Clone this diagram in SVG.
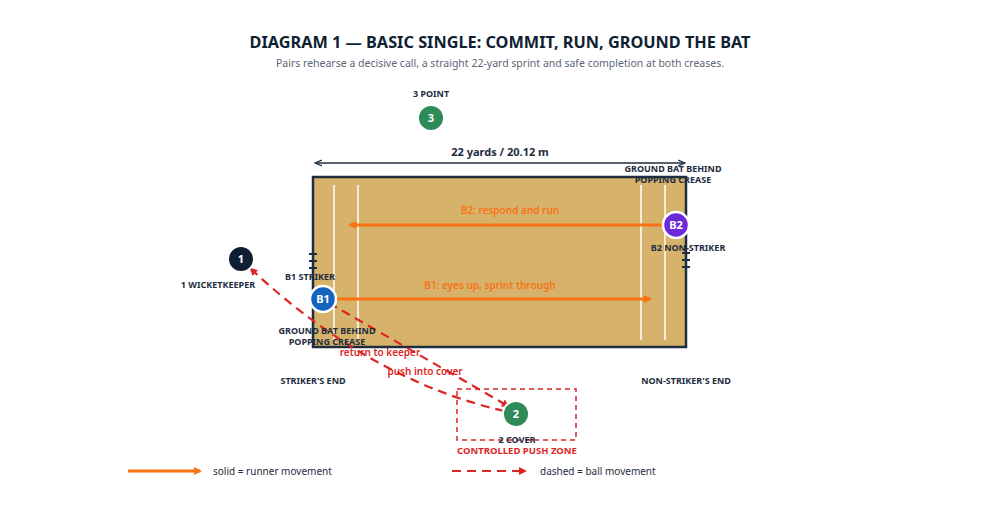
<svg xmlns="http://www.w3.org/2000/svg" width="1000" height="525" viewBox="0 0 1000 525">
<style>
text{font-family:"Noto Sans","Open Sans",sans-serif}
.t{font-size:9px;font-weight:700;fill:#1e2d40;text-anchor:middle}
.nl{font-size:11px;font-weight:700;fill:#fff;text-anchor:middle}
.run{stroke:#f97316;stroke-width:3;fill:none}
.ball{stroke:#dc2626;stroke-width:2.2;stroke-dasharray:9,6;fill:none}
.ol{font-size:10px;font-weight:600;fill:#f97316;text-anchor:middle}
.rl{font-size:10px;font-weight:600;fill:#dc2626;text-anchor:middle}
.cr{stroke:#fff;stroke-width:1.5}
.st{stroke:#1e2d40;stroke-width:2}
</style>
<defs>
<marker id="ao" markerWidth="8" markerHeight="8" refX="6" refY="4" orient="auto" markerUnits="userSpaceOnUse"><path d="M0,0L8,4L0,8z" fill="#f97316"/></marker>
<marker id="ar" markerWidth="8" markerHeight="8" refX="6" refY="4" orient="auto" markerUnits="userSpaceOnUse"><path d="M0,0L8,4L0,8z" fill="#dc2626"/></marker>
<marker id="ad" markerWidth="8" markerHeight="8" refX="6" refY="4" orient="auto-start-reverse" markerUnits="userSpaceOnUse"><path d="M0,1L7,4L0,7" fill="none" stroke="#1e2d40" stroke-width="1.3"/></marker>
</defs>
<rect width="1000" height="525" fill="#fff"/>
<text x="500" y="48" text-anchor="middle" font-size="16.3" font-weight="700" fill="#0f1f33">DIAGRAM 1 — BASIC SINGLE: COMMIT, RUN, GROUND THE BAT</text>
<text x="500" y="67" text-anchor="middle" font-size="10.5" fill="#5b6675">Pairs rehearse a decisive call, a straight 22-yard sprint and safe completion at both creases.</text>
<g id="pitch">
<rect x="313" y="177" width="373" height="170" fill="#d6b26a" stroke="#1e2d40" stroke-width="2.5"/>
<line class="cr" x1="334" y1="185" x2="334" y2="340"/><line class="cr" x1="358" y1="185" x2="358" y2="340"/>
<line class="cr" x1="641" y1="185" x2="641" y2="340"/><line class="cr" x1="665" y1="185" x2="665" y2="340"/>
<line class="st" x1="313" y1="242" x2="313" y2="275"/><line class="st" x1="309" y1="254" x2="317" y2="254"/><line class="st" x1="309" y1="261" x2="317" y2="261"/><line class="st" x1="309" y1="268" x2="317" y2="268"/>
<line class="st" x1="686" y1="250" x2="686" y2="284"/><line class="st" x1="682" y1="253" x2="690" y2="253"/><line class="st" x1="682" y1="260" x2="690" y2="260"/><line class="st" x1="682" y1="267" x2="690" y2="267"/>
<line x1="316" y1="163" x2="684" y2="163" stroke="#1e2d40" stroke-width="1.3" marker-start="url(#ad)" marker-end="url(#ad)"/>
<text x="500" y="156" text-anchor="middle" font-size="11" font-weight="700" fill="#1e2d40">22 yards / 20.12 m</text>
<text class="t" x="313" y="384">STRIKER'S END</text>
<text class="t" x="686" y="384">NON-STRIKER'S END</text>
<rect x="457" y="389" width="119" height="51" fill="none" stroke="#dc2626" stroke-width="1.5" stroke-dasharray="5,4"/>
<text x="517" y="454" text-anchor="middle" font-size="9.5" font-weight="700" fill="#dc2626">CONTROLLED PUSH ZONE</text>
</g>
<g id="connectors">
<line class="run" x1="662" y1="225" x2="350" y2="225" marker-end="url(#ao)"/>
<text class="ol" x="510" y="214">B2: respond and run</text>
<line class="run" x1="337" y1="299" x2="650" y2="299" marker-end="url(#ao)"/>
<text class="ol" x="490" y="289">B1: eyes up, sprint through</text>
<line class="ball" x1="329" y1="303" x2="508" y2="406" marker-end="url(#ar)"/>
<text class="rl" x="425" y="375">push into cover</text>
<path class="ball" d="M504,411 Q370,380 251,269" marker-end="url(#ar)"/>
<text class="rl" x="380" y="356">return to keeper</text>
</g>
<g id="n1"><circle cx="241" cy="259" r="13" fill="#0f1f33" stroke="#fff" stroke-width="2"/><text class="nl" x="241" y="263">1</text><text class="t" x="218" y="288">1 WICKETKEEPER</text></g>
<g id="n2"><circle cx="516" cy="414" r="13" fill="#2e8b57" stroke="#fff" stroke-width="2"/><text class="nl" x="516" y="418">2</text><text class="t" x="517" y="443">2 COVER</text></g>
<g id="n3"><circle cx="431" cy="118" r="13" fill="#2e8b57" stroke="#fff" stroke-width="2"/><text class="nl" x="431" y="122">3</text><text class="t" x="431" y="97">3 POINT</text></g>
<g id="b1"><circle cx="323" cy="299" r="13" fill="#1565c0" stroke="#fff" stroke-width="2.5"/><text class="nl" x="323" y="303">B1</text><text class="t" x="310" y="280">B1 STRIKER</text><text class="t" x="327" y="334">GROUND BAT BEHIND</text><text class="t" x="327" y="345">POPPING CREASE</text></g>
<g id="b2"><circle cx="676" cy="225" r="13" fill="#6d28d9" stroke="#fff" stroke-width="2.5"/><text class="nl" x="676" y="229">B2</text><text class="t" x="688" y="251">B2 NON-STRIKER</text><text class="t" x="673" y="172">GROUND BAT BEHIND</text><text class="t" x="673" y="183">POPPING CREASE</text></g>
<g id="legend">
<line class="run" x1="128" y1="471" x2="200" y2="471" marker-end="url(#ao)"/>
<text x="213" y="475" font-size="10" fill="#1e2d40">solid = runner movement</text>
<line class="ball" x1="452" y1="471" x2="525" y2="471" marker-end="url(#ar)"/>
<text x="540" y="475" font-size="10" fill="#1e2d40">dashed = ball movement</text>
</g>
</svg>
